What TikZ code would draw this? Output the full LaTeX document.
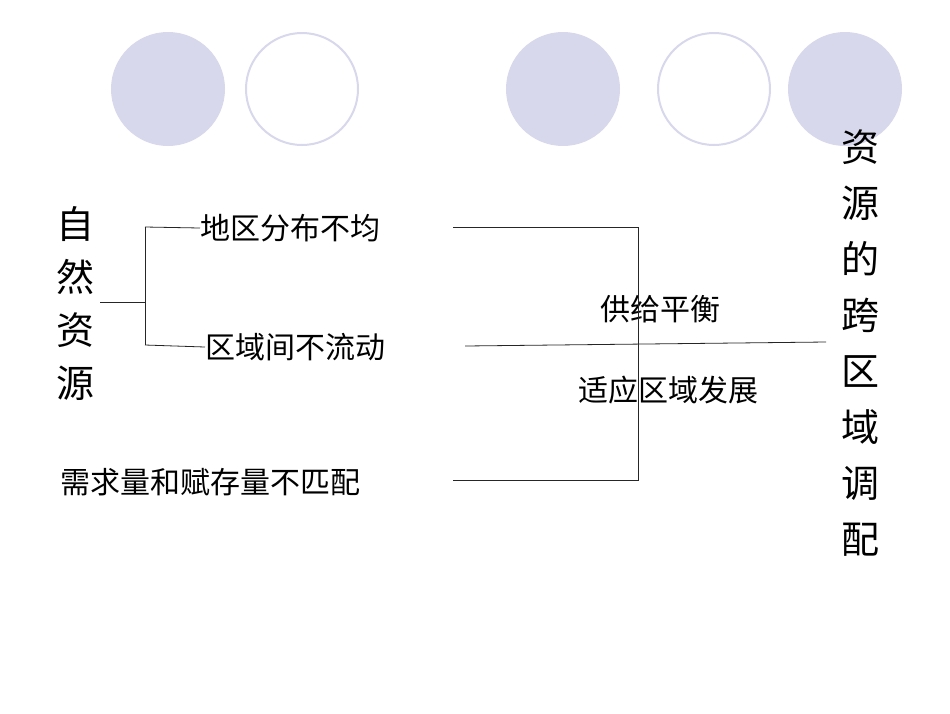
\documentclass[tikz,border=0pt]{standalone}
\usepackage{fontspec}
\newfontfamily\cjk{Noto Sans CJK SC}
\begin{document}
\begin{tikzpicture}[x=1pt,y=-1pt,
  filled/.style={fill=lav,draw=none},
  hollow/.style={draw=lav,line width=2pt,fill=white},
  lbl/.style={font=\cjk\fontsize{30}{30}\selectfont,inner sep=0pt},
  vlbl/.style={font=\cjk\fontsize{38}{56}\selectfont,inner sep=0pt,align=center},
  ln/.style={draw=black!85,line width=0.8pt}]
\definecolor{lav}{RGB}{216,216,236}
\useasboundingbox (0,0) rectangle (950,713);
\fill[white] (0,0) rectangle (950,713);
\filldraw[filled] (168,89) circle (57);
\filldraw[hollow] (302,89) circle (56);
\filldraw[filled] (563,89) circle (57);
\filldraw[hollow] (714,89) circle (56);
\filldraw[filled] (845,89) circle (57);
\node[vlbl,font=\cjk\fontsize{38}{53}\selectfont] (zr) at (75,304) {自\\然\\资\\源};
\node[vlbl] (kq) at (860,343) {资\\源\\的\\跨\\区\\域\\调\\配};
\node[lbl,anchor=west] (a) at (200,228) {地区分布不均};
\node[lbl,anchor=west] (b) at (205,347) {区域间不流动};
\node[lbl,anchor=west] (c) at (60,482) {需求量和赋存量不匹配};
\node[lbl] (g) at (660,309) {供给平衡};
\node[lbl] (s) at (668,390) {适应区域发展};
\coordinate (j) at (145,302);
\coordinate (v) at (638,227);
\draw[ln] (100,302) -- (j);
\draw[ln] (145,227) -- (145,345);
\draw[ln] (145,227) -- (a.west);
\draw[ln] (145,345) -- (b.west);
\draw[ln] (453,227) -- (v) -- (638,480) -- (453,480);
\draw[ln] (465,346) -- (826,342);
\end{tikzpicture}
\end{document}
